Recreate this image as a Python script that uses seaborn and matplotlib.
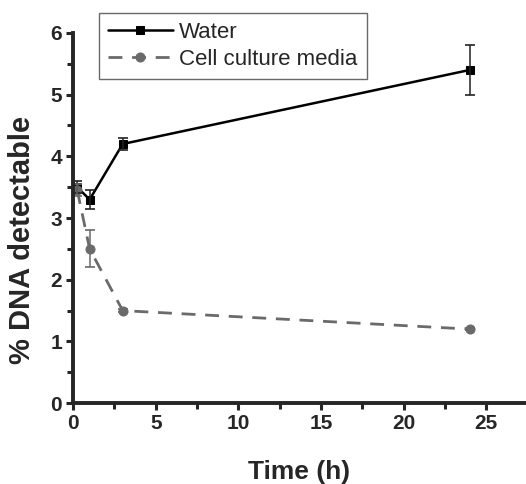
import numpy as np
import pandas as pd
import matplotlib
matplotlib.use("Agg")
import matplotlib.pyplot as plt
import seaborn as sns

# values
time_h = [0.25, 1, 3, 24]
water = [3.5, 3.3, 4.2, 5.4]
water_err = [0.1, 0.15, 0.1, 0.4]
media = [3.45, 2.5, 1.5, 1.2]
media_err = [0.1, 0.3, 0.03, 0.02]

sns.set_style("ticks")
plt.rcParams['font.family'] = ['Liberation Sans', 'DejaVu Sans']

fig = plt.figure(figsize=(5.26, 4.84), dpi=100)
ax = fig.add_axes([0.139, 0.167, 0.861, 0.765])

df_w = pd.DataFrame({'t': time_h, 'v': water})
df_m = pd.DataFrame({'t': time_h, 'v': media})

sns.lineplot(data=df_w, x='t', y='v', ax=ax, color='black', lw=1.8,
             marker='s', markersize=5.5, markeredgecolor='black', label='Water')
sns.lineplot(data=df_m, x='t', y='v', ax=ax, color='#6a6a6a', lw=2,
             marker='o', markersize=6.5, markeredgecolor='#6a6a6a',
             label='Cell culture media')
ax.lines[1].set_dashes([5, 3.5])

ax.errorbar(time_h, water, yerr=water_err, fmt='none', ecolor='#222222',
            elinewidth=1.1, capsize=3.5, capthick=1.2)
ax.errorbar(time_h, media, yerr=media_err, fmt='none', ecolor='#6a6a6a',
            elinewidth=1.1, capsize=3.5, capthick=1.2)

ax.set_xlim(0, 27.4)
ax.set_ylim(0, 6)
ax.set_xticks([0, 5, 10, 15, 20, 25])
ax.set_xticks(np.arange(2.5, 27.5, 5), minor=True)
ax.set_yticks(range(7))
ax.set_yticks(np.arange(0.5, 6, 1), minor=True)

sns.despine(ax=ax)
for s in ['left', 'bottom']:
    ax.spines[s].set_linewidth(2.8)
ax.tick_params(which='major', length=5, width=2.2, labelsize=15, pad=3)
ax.tick_params(which='minor', length=4, width=2.2)
for lab in ax.get_xticklabels() + ax.get_yticklabels():
    lab.set_fontweight('bold')

ax.set_xlabel('Time (h)', fontsize=19, fontweight='bold', labelpad=19)
ax.set_ylabel('% DNA detectable', fontsize=21, fontweight='bold')
ax.yaxis.set_label_coords(-0.083, 0.44)

leg = ax.legend(loc='upper left', bbox_to_anchor=(0.058, 1.053), fontsize=16,
                frameon=True, fancybox=False, handlelength=2.9,
                handletextpad=0.3, borderpad=0.4, labelspacing=0.25,
                borderaxespad=0)
leg.get_frame().set_edgecolor('#444444')
leg.get_frame().set_linewidth(1)

fig.savefig('out.png', dpi=100)
